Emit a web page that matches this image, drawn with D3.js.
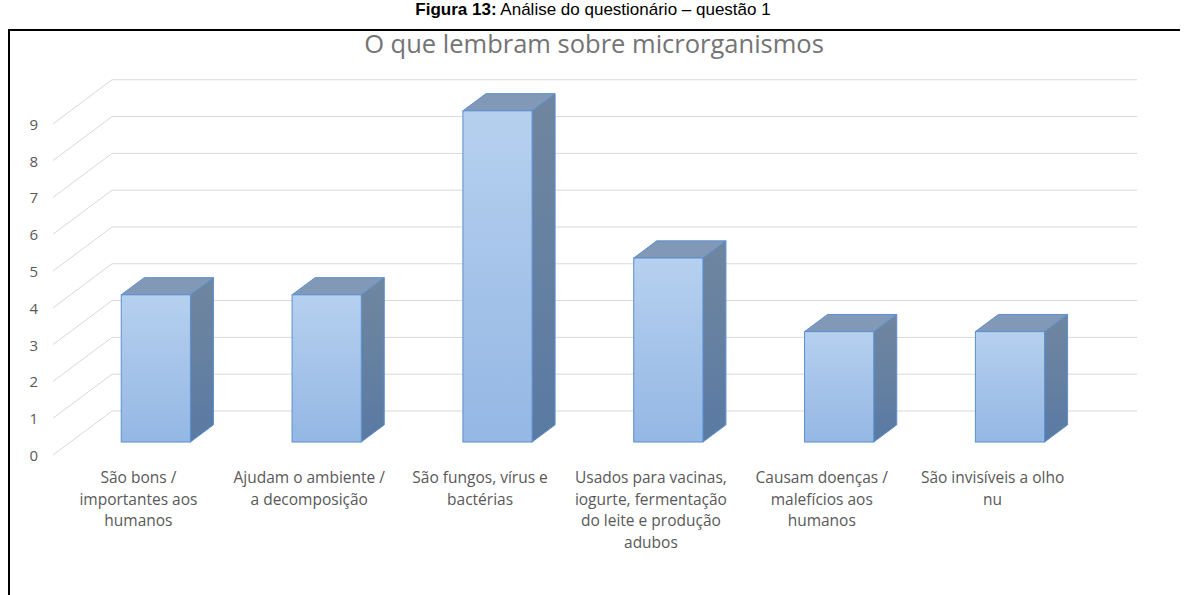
<!DOCTYPE html>
<html>
<head>
<meta charset="utf-8">
<script src="https://cdn.jsdelivr.net/npm/d3@7"></script>
<style>
  body { margin: 0; background: #fff; }
  svg { display: block; }
</style>
</head>
<body>
<div class="canva"></div>
<script>
// data
const categories = [
  "São bons /\nimportantes aos\nhumanos",
  "Ajudam o ambiente /\na decomposição",
  "São fungos, vírus e\nbactérias",
  "Usados para vacinas,\niogurte, fermentação\ndo leite e produção\nadubos",
  "Causam doenças /\nmalefícios aos\nhumanos",
  "São invisíveis a olho\nnu"
];
const values = [4, 4, 9, 5, 3, 3];
const yTicks = [0, 1, 2, 3, 4, 5, 6, 7, 8, 9];
const title = "O que lembram sobre microrganismos";

const W = 1186, H = 595;
const svg = d3.select(".canva").append("svg")
    .attr("width", W)
    .attr("height", H);

// figure caption above the frame
const cap = svg.append("text")
    .attr("x", 593)
    .attr("y", 15)
    .attr("text-anchor", "middle")
    .style("font-family", "'Liberation Sans', Arial, sans-serif")
    .style("font-size", "17px")
    .attr("fill", "#000");
cap.append("tspan").style("font-weight", "bold").text("Figura 13:");
cap.append("tspan").text(" Análise do questionário – questão 1");

// frame of the figure
svg.append("line").attr("x1", 8).attr("x2", 1180).attr("y1", 30).attr("y2", 30)
    .attr("stroke", "#000").attr("stroke-width", 2);
svg.append("line").attr("x1", 9).attr("x2", 9).attr("y1", 29).attr("y2", H)
    .attr("stroke", "#000").attr("stroke-width", 2);

// oblique 3d: depth 0 = front of floor, 1 = back wall
const depthX = 59, depthY = -44;
const off = d => [depthX * d, depthY * d];

const x = d3.scaleBand()
    .domain(categories)
    .range([53, 1078]);

const y = d3.scaleLinear()
    .domain([0, 9])
    .range([455, 123.8]);

const gridColor = "#d9d9d9";
const grid = svg.append("g");

// back wall lines
grid.selectAll(".hline")
    .data(yTicks)
    .enter()
    .append("line")
    .attr("x1", x.range()[0] + depthX)
    .attr("x2", x.range()[1] + depthX)
    .attr("y1", d => y(d) + depthY)
    .attr("y2", d => y(d) + depthY)
    .attr("stroke", gridColor)
    .attr("stroke-width", 1);

// side wall lines
grid.selectAll(".dline")
    .data(yTicks)
    .enter()
    .append("line")
    .attr("x1", x.range()[0])
    .attr("x2", x.range()[0] + depthX)
    .attr("y1", d => y(d))
    .attr("y2", d => y(d) + depthY)
    .attr("stroke", gridColor)
    .attr("stroke-width", 1);

// y tick labels
svg.selectAll(".ytick")
    .data(yTicks)
    .enter()
    .append("text")
    .attr("x", 38)
    .attr("y", d => y(d) + 6)
    .attr("text-anchor", "end")
    .style("font-family", "'Open Sans', sans-serif")
    .style("font-size", "15px")
    .attr("fill", "#595959")
    .text(d => d);

// gradients
const defs = svg.append("defs");
const gFront = defs.append("linearGradient").attr("id", "gFront")
    .attr("x1", 0).attr("y1", 0).attr("x2", 0).attr("y2", 1);
gFront.append("stop").attr("offset", "0%").attr("stop-color", "#b6d0ef");
gFront.append("stop").attr("offset", "100%").attr("stop-color", "#94b7e4");
const gSide = defs.append("linearGradient").attr("id", "gSide")
    .attr("x1", 0).attr("y1", 0).attr("x2", 0).attr("y2", 1);
gSide.append("stop").attr("offset", "0%").attr("stop-color", "#70869f");
gSide.append("stop").attr("offset", "100%").attr("stop-color", "#5a7aa3");

const barW = x.bandwidth() * 0.405;
const dFront = 0.295, dBack = 0.685;

const bars = svg.selectAll(".bar")
    .data(values.map((v, i) => ({ c: categories[i], v: v })))
    .enter()
    .append("g");

function pts(d) {
  const [fx, fy] = off(dFront);
  const [bx, by] = off(dBack);
  const l = x(d.c) + (x.bandwidth() - barW) / 2;
  const r = l + barW;
  const t = y(d.v), b = y(0);
  return { l, r, t, b, fx, fy, bx, by };
}

// side face
bars.append("polygon")
    .attr("points", d => {
      const p = pts(d);
      return [[p.r + p.fx, p.t + p.fy], [p.r + p.bx, p.t + p.by],
              [p.r + p.bx, p.b + p.by], [p.r + p.fx, p.b + p.fy]].join(" ");
    })
    .attr("fill", "url(#gSide)")
    .attr("stroke", "#5b8fcf")
    .attr("stroke-width", 1)
    .attr("stroke-linejoin", "round");

// top face
bars.append("polygon")
    .attr("points", d => {
      const p = pts(d);
      return [[p.l + p.fx, p.t + p.fy], [p.r + p.fx, p.t + p.fy],
              [p.r + p.bx, p.t + p.by], [p.l + p.bx, p.t + p.by]].join(" ");
    })
    .attr("fill", "#8198b6")
    .attr("stroke", "#5b8fcf")
    .attr("stroke-width", 1)
    .attr("stroke-linejoin", "round");

// front face
bars.append("rect")
    .attr("x", d => pts(d).l + pts(d).fx)
    .attr("y", d => pts(d).t + pts(d).fy)
    .attr("width", barW)
    .attr("height", d => pts(d).b - pts(d).t)
    .attr("fill", "url(#gFront)")
    .attr("stroke", "#5b8fcf")
    .attr("stroke-width", 1);

// title
svg.append("text")
    .attr("x", 594)
    .attr("y", 53)
    .attr("text-anchor", "middle")
    .style("font-family", "'Open Sans', sans-serif")
    .style("font-size", "25.5px")
    .attr("fill", "#747474")
    .text(title);

// category labels
const labels = svg.selectAll(".cat")
    .data(categories)
    .enter()
    .append("text")
    .attr("text-anchor", "middle")
    .style("font-family", "'Open Sans', sans-serif")
    .style("font-size", "15.5px")
    .attr("fill", "#595959");

labels.selectAll("tspan")
    .data(d => d.split("\n").map(t => ({ t: t, c: d })))
    .enter()
    .append("tspan")
    .attr("x", d => x(d.c) + x.bandwidth() / 2)
    .attr("y", (d, i) => 483 + i * 21.7)
    .text(d => d.t);
</script>
</body>
</html>
